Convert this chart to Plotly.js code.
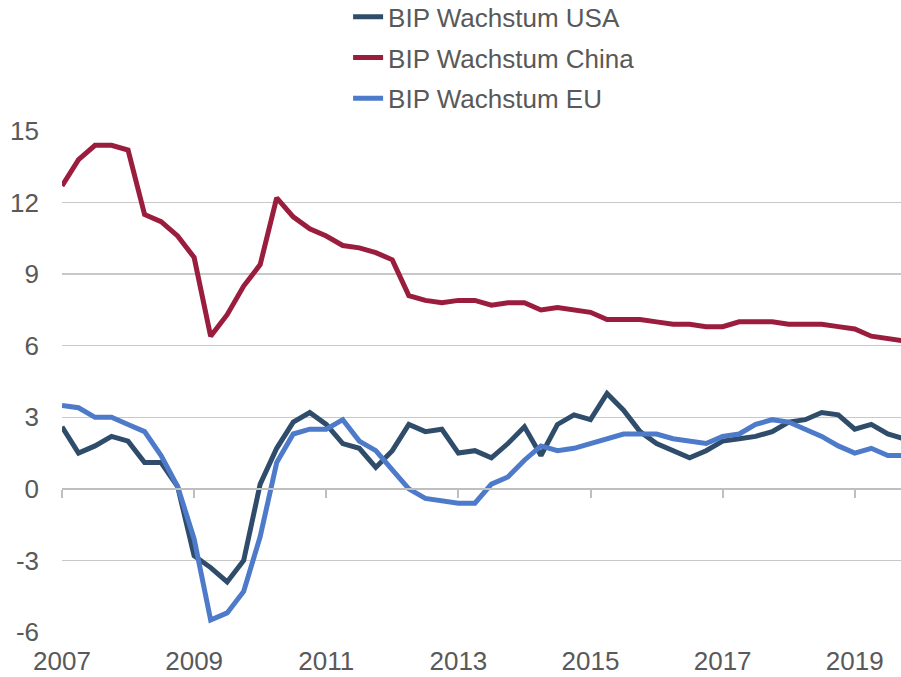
<!DOCTYPE html>
<html>
<head>
<meta charset="utf-8">
<script src="https://cdn.plot.ly/plotly-3.0.1.min.js"></script>
<style>html,body{margin:0;padding:0;background:#fff;}#chart{width:901px;height:677px;}</style>
</head>
<body>
<div id="chart"></div>
<script>
// Quarterly observations, 2007 Q1 .. 2019 Q4
const startYear = 2007;
const quarterCount = 52;
const usaGrowth = [2.6,1.5,1.8,2.2,2.0,1.1,1.1,0.1,-2.8,-3.3,-3.9,-3.0,0.2,1.7,2.8,3.2,
                   2.7,1.9,1.7,0.9,1.6,2.7,2.4,2.5,1.5,1.6,1.3,1.9,2.6,1.4,2.7,3.1,
                   2.9,4.0,3.3,2.4,1.9,1.6,1.3,1.6,2.0,2.1,2.2,2.4,2.8,2.9,3.2,3.1,
                   2.5,2.7,2.3,2.1];
const chinaGrowth = [12.7,13.8,14.4,14.4,14.2,11.5,11.2,10.6,9.7,6.4,7.3,8.5,9.4,12.2,11.4,10.9,
                     10.6,10.2,10.1,9.9,9.6,8.1,7.9,7.8,7.9,7.9,7.7,7.8,7.8,7.5,7.6,7.5,
                     7.4,7.1,7.1,7.1,7.0,6.9,6.9,6.8,6.8,7.0,7.0,7.0,6.9,6.9,6.9,6.8,
                     6.7,6.4,6.3,6.2];
const euGrowth = [3.5,3.4,3.0,3.0,2.7,2.4,1.4,0.1,-2.1,-5.5,-5.2,-4.3,-2.0,1.1,2.3,2.5,
                  2.5,2.9,2.0,1.6,0.8,0.0,-0.4,-0.5,-0.6,-0.6,0.2,0.5,1.2,1.8,1.6,1.7,
                  1.9,2.1,2.3,2.3,2.3,2.1,2.0,1.9,2.2,2.3,2.7,2.9,2.8,2.5,2.2,1.8,
                  1.5,1.7,1.4,1.4];
const seriesNames = ["BIP Wachstum USA", "BIP Wachstum China", "BIP Wachstum EU"];
const yearTicks = [2007, 2009, 2011, 2013, 2015, 2017, 2019];
const yearLabels = ["2007", "2009", "2011", "2013", "2015", "2017", "2019"];
const valueTicks = [-6, -3, 0, 3, 6, 9, 12, 15];
const valueLabels = ["-6", "-3", "0", "3", "6", "9", "12", "15"];

const xDates = [];
for (let i = 0; i < quarterCount; i++) xDates.push(startYear + i / 4);

const colors = ["#2F4D6B", "#9B1D3D", "#4E7ACA"];
const seriesData = [usaGrowth, chinaGrowth, euGrowth];
const traces = seriesData.map((vals, k) => ({
  type: "scatter", mode: "lines",
  x: xDates, y: vals, name: seriesNames[k],
  legendgroup: "g" + k,
  line: {color: colors[k], width: 5, shape: "linear"},
  hoverinfo: "x+y+name"
}));

const font = {family: "'Liberation Sans', Arial, sans-serif", size: 26, color: "#595959"};
const xRange = [2007, 2019.70];
const yRange = [-6, 15];

const layout = {
  width: 901, height: 677,
  margin: {l: 62, r: 0, t: 131, b: 45, pad: 0, autoexpand: false},
  paper_bgcolor: "#ffffff", plot_bgcolor: "#ffffff",
  font: font,
  showlegend: true,
  legend: {
    x: 0.341, xanchor: "left", y: 1.275, yanchor: "top",
    font: font, traceorder: "grouped", tracegroupgap: 4,
    bgcolor: "rgba(0,0,0,0)", borderwidth: 0
  },
  xaxis: {
    range: xRange, showgrid: false, zeroline: false, showline: false,
    tickmode: "array", tickvals: yearTicks, ticktext: yearLabels,
    ticks: "", ticklabelstandoff: 11, tickfont: font, fixedrange: true, automargin: false
  },
  xaxis2: {
    overlaying: "x", anchor: "free", position: (0 - yRange[0]) / (yRange[1] - yRange[0]),
    side: "bottom", range: xRange, showgrid: false, zeroline: false,
    showline: true, linecolor: "#BFBFBF", linewidth: 2.5,
    tickmode: "array", tickvals: yearTicks, ticks: "outside", ticklen: 8,
    tickwidth: 2, tickcolor: "#BFBFBF", showticklabels: false, fixedrange: true
  },
  yaxis: {
    range: yRange, tickmode: "array", tickvals: valueTicks, ticktext: valueLabels,
    showgrid: true, gridcolor: "#C8C8C8", gridwidth: 1.5, zeroline: false,
    showline: false, ticks: "", ticklabelstandoff: 22, tickfont: font, fixedrange: true, automargin: false
  }
};

// invisible helper trace that activates the zero-line axis (xaxis2)
traces.push({type: "scatter", mode: "lines", x: xRange, y: [0, 0], xaxis: "x2",
  showlegend: false, hoverinfo: "skip", line: {color: "rgba(0,0,0,0)", width: 0}});

Plotly.newPlot("chart", [traces[3], traces[0], traces[1], traces[2]], layout, {displayModeBar: false, staticPlot: true});
</script>
</body>
</html>
